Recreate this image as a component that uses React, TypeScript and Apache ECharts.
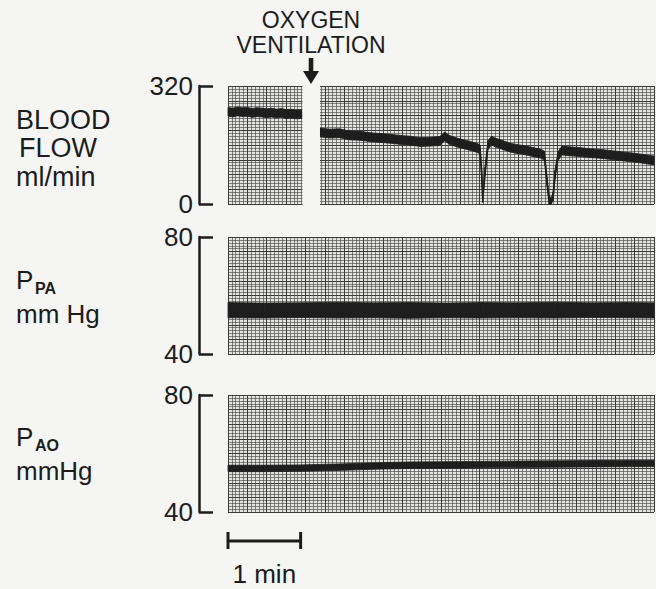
import React, { useEffect, useRef } from "react";
import * as echarts from "echarts";

// ---- data (read from the recording) ----
// time in seconds from start of recording
const X_MAX = 352;
const GAP_START = 61.5; // recording interrupted
const GAP_END = 76;
const EVENT_T = 68.6; // oxygen ventilation starts
const SCALE_BAR_S = 60; // 1 min

// Blood flow (ml/min), centre of the trace
const flowTime = [
  0, 4, 8, 12, 16, 20, 24, 28, 32, 36, 40, 44, 48, 52, 56, 61,
  68,
  76, 84, 92, 100, 109, 118, 126, 134, 142, 150, 159, 167, 175, 179, 183, 190, 196, 202, 206,
  208.2, 209.5, 210.5, 212.4, 214.8, 217.9, 220.6, 227, 233, 239, 245, 252, 258, 261.5,
  263.6, 265.3, 266.9, 268.6, 270.2, 272.7, 276, 282, 290, 299, 308, 316, 324, 332, 342, 352,
];
const flowValue = [
  250, 248, 251, 249, 250, 247, 249, 248, 246, 248, 245, 247, 244, 245, 243, 244,
  null,
  194, 191, 192, 186, 185, 181, 179, 177, 174, 172, 168, 169, 171, 183, 174, 166, 161, 156, 152,
  148, 90, 16, 88, 160, 172, 167, 160, 153, 149, 146, 141, 137, 131,
  60, 12, 3, 20, 80, 130, 145, 143, 141, 138, 136, 133, 130, 127, 123, 118,
];
const FLOW_SPREAD = 12; // half width of the pulsatile band (ml/min)

// Pulmonary artery pressure (mm Hg): systolic / diastolic
const ppaTime = [0, 30, 60, 90, 120, 150, 180, 210, 240, 270, 300, 330, 352];
const ppaHigh = [57.6, 57.4, 57.5, 57.7, 57.5, 57.6, 57.4, 57.6, 57.5, 57.7, 57.5, 57.6, 57.5];
const ppaLow = [52.4, 52.3, 52.5, 52.3, 52.4, 52.2, 52.4, 52.3, 52.4, 52.3, 52.5, 52.4, 52.3];

// Aortic pressure (mm Hg): systolic / diastolic
const paoTime = [0, 30, 60, 90, 120, 150, 180, 210, 240, 270, 300, 330, 352];
const paoHigh = [56.0, 56.0, 56.1, 56.4, 56.8, 57.1, 57.2, 57.3, 57.4, 57.5, 57.6, 57.7, 57.7];
const paoLow = [53.8, 53.8, 53.9, 54.2, 54.6, 54.9, 55.0, 55.1, 55.2, 55.3, 55.4, 55.5, 55.5];

// axis ranges / ticks
const flowRange = [0, 320];
const pressRange = [40, 80];
const flowMajor = 40;
const pressMajor = 5;
const X_MAJOR = 16;

// ---- styling ----
const FONT = "'Liberation Sans', Arial, Helvetica, sans-serif";
const BG = "#f5f5f3";
const INK = "#1c1c1c";
const TRACE = "#1e1e1e";
const PAPER = "#e3e3e1";
const MAJOR = "#3a3a3a";
const MINOR = "rgba(60,60,60,0.6)";

const GRID_LEFT = 228;
const GRID_W = 426;
const grids = [
  { left: GRID_LEFT, top: 86, width: GRID_W, height: 118 },
  { left: GRID_LEFT, top: 237, width: GRID_W, height: 117 },
  { left: GRID_LEFT, top: 395, width: GRID_W, height: 117 },
];

function bandSeries(name: string, g: number, times: number[], lo: (number | null)[], hi: (number | null)[]) {
  const data: number[][] = [];
  for (let i = 0; i < times.length - 1; i++) {
    if (lo[i] == null || lo[i + 1] == null || hi[i] == null || hi[i + 1] == null) continue;
    data.push([times[i], lo[i] as number, hi[i] as number, times[i + 1], lo[i + 1] as number, hi[i + 1] as number]);
  }
  return {
    name,
    type: "custom",
    xAxisIndex: g,
    yAxisIndex: g * 2,
    silent: true,
    z: 3,
    encode: { x: [0, 3], y: [1, 2, 4, 5] },
    data,
    renderItem: (_params: any, api: any) => {
      const a = api.coord([api.value(0), api.value(1)]);
      const b = api.coord([api.value(0), api.value(2)]);
      const c = api.coord([api.value(3), api.value(5)]);
      const d = api.coord([api.value(3), api.value(4)]);
      return {
        type: "polygon",
        shape: { points: [a, b, c, d] },
        style: { fill: TRACE, stroke: TRACE, lineWidth: 0.8 },
      };
    },
  };
}

function buildOption(): any {
  const xAxis = grids.map((_, i) => ({
    type: "value",
    gridIndex: i,
    min: 0,
    max: X_MAX,
    interval: X_MAJOR,
    axisLine: { show: false },
    axisTick: { show: false },
    axisLabel: { show: false },
    splitLine: { show: true, lineStyle: { color: MAJOR, width: 1 } },
    minorTick: { show: false, splitNumber: 5 },
    minorSplitLine: { show: true, lineStyle: { color: MINOR, width: 1 } },
  }));
  const yAxis: any[] = [];
  const ranges = [flowRange, pressRange, pressRange];
  const majors = [flowMajor, pressMajor, pressMajor];
  grids.forEach((_, i) => {
    const [mn, mx] = ranges[i];
    yAxis.push({
      type: "value",
      gridIndex: i,
      min: mn,
      max: mx,
      interval: majors[i],
      axisLine: { show: false },
      axisTick: { show: false },
      axisLabel: { show: false },
      splitLine: { show: true, lineStyle: { color: MAJOR, width: 1 } },
      minorTick: { show: false, splitNumber: 5 },
      minorSplitLine: { show: true, lineStyle: { color: MINOR, width: 1 } },
    });
    yAxis.push({
      type: "value",
      gridIndex: i,
      min: mn,
      max: mx,
      interval: mx - mn,
      position: "left",
      offset: 29,
      axisLine: { show: true, lineStyle: { color: INK, width: 2.5 } },
      axisTick: { show: true, inside: true, length: 14, lineStyle: { color: INK, width: 2.5 } },
      axisLabel: {
        show: true,
        fontSize: 26,
        fontFamily: FONT,
        color: INK,
        margin: 6,
      },
      splitLine: { show: false },
    });
  });

  const [fMin, fMax] = flowRange;
  const flowLo = flowValue.map((v) => (v == null ? null : Math.max(fMin, v - FLOW_SPREAD)));
  const flowHi = flowValue.map((v) => (v == null ? null : Math.min(fMax, v + FLOW_SPREAD)));

  return {
    animation: false,
    backgroundColor: BG,
    grid: grids.map((g) => ({
      ...g,
      show: true,
      backgroundColor: PAPER,
      borderWidth: 0,
      containLabel: false,
    })),
    xAxis,
    yAxis,
    series: [
      bandSeries("Blood flow", 0, flowTime, flowLo, flowHi),
      {
        name: "Blood flow centre",
        type: "line",
        xAxisIndex: 0,
        yAxisIndex: 0,
        symbol: "none",
        silent: true,
        z: 4,
        lineStyle: { color: TRACE, width: 1.6 },
        data: flowTime.map((t, i) => [t, flowValue[i]]),
      },
      bandSeries("PPA", 1, ppaTime, ppaLow, ppaHigh),
      bandSeries("PAO", 2, paoTime, paoLow, paoHigh),
    ],
  };
}

const txt = (text: string, x: number, y: number, size: number, align = "left", weight = "normal") => ({
  type: "text",
  x,
  y,
  z: 20,
  style: {
    text,
    fontSize: size,
    fontFamily: FONT,
    fontWeight: weight,
    fill: INK,
    align,
    verticalAlign: "middle",
    textAlign: align,
    textVerticalAlign: "middle",
  },
});

export default function App() {
  const ref = useRef<HTMLDivElement>(null);
  useEffect(() => {
    document.body.style.margin = "0";
    const el = ref.current!;
    const chart = echarts.init(el, null, { renderer: "svg" });
    chart.setOption(buildOption());
    const px = (t: number) => chart.convertToPixel({ xAxisIndex: 0 }, t) as number;
    const pxBar = (t: number) => chart.convertToPixel({ xAxisIndex: 2 }, t) as number;
    const xa = px(GAP_START);
    const xb = px(GAP_END);
    const xm = px(EVENT_T);
    const s0 = pxBar(0);
    const s1 = pxBar(SCALE_BAR_S);
    const barY = 541;
    chart.setOption({
      graphic: [
        {
          type: "rect",
          z: 10,
          shape: { x: xa, y: 78, width: xb - xa, height: 134 },
          style: { fill: BG },
        },
        {
          type: "polygon",
          z: 20,
          shape: {
            points: [
              [xm - 2.3, 58],
              [xm + 2.3, 58],
              [xm + 2.3, 71],
              [xm + 8, 71],
              [xm, 84],
              [xm - 8, 71],
              [xm - 2.3, 71],
            ],
          },
          style: { fill: INK },
        },
        txt("OXYGEN", xm, 20, 23, "center"),
        txt("VENTILATION", xm, 45, 23, "center"),
        txt("BLOOD", 16, 120, 27),
        txt("FLOW", 19, 148, 27),
        txt("ml/min", 16, 177, 27),
        txt("P", 16, 280, 26),
        txt("PA", 35, 288, 16, "left", "bold"),
        txt("mm Hg", 16, 314, 26),
        txt("P", 16, 437, 26),
        txt("AO", 35, 445, 16, "left", "bold"),
        txt("mmHg", 16, 471, 26),
        {
          type: "line",
          z: 20,
          shape: { x1: s0, y1: barY, x2: s1, y2: barY },
          style: { stroke: INK, lineWidth: 3 },
        },
        {
          type: "line",
          z: 20,
          shape: { x1: s0, y1: barY - 9, x2: s0, y2: barY + 8 },
          style: { stroke: INK, lineWidth: 3 },
        },
        {
          type: "line",
          z: 20,
          shape: { x1: s1, y1: barY - 9, x2: s1, y2: barY + 8 },
          style: { stroke: INK, lineWidth: 3 },
        },
        txt("1 min", (s0 + s1) / 2, 574, 26, "center"),
      ],
    });
    return () => chart.dispose();
  }, []);
  return (
    <div
      ref={ref}
      style={{ position: "fixed", left: 0, top: 0, width: 656, height: 589 }}
    />
  );
}
